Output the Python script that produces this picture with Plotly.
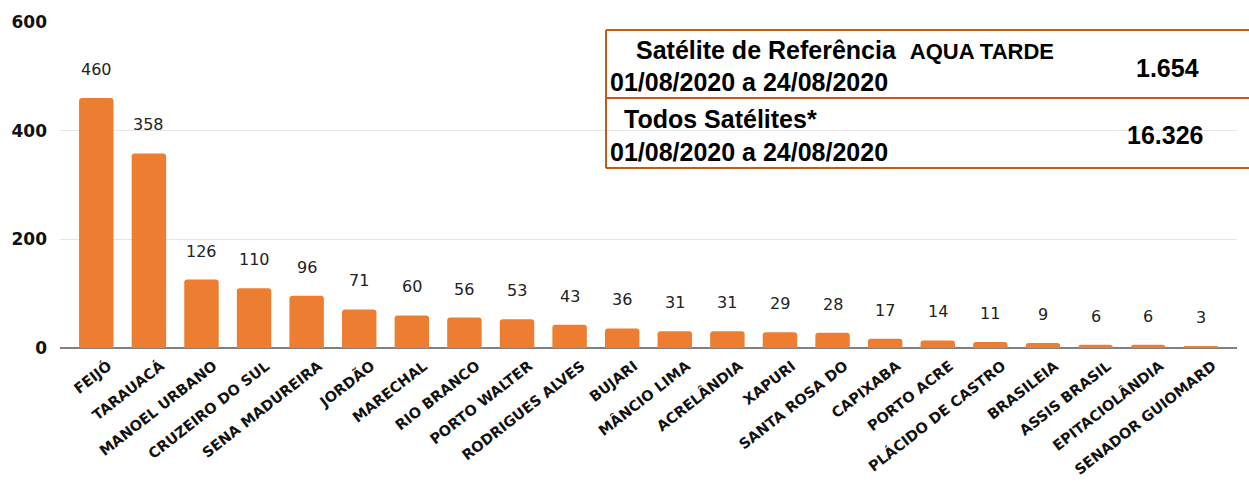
import plotly.graph_objects as go

municipios = ["FEIJÓ", "TARAUACÁ", "MANOEL URBANO", "CRUZEIRO DO SUL", "SENA MADUREIRA",
              "JORDÃO", "MARECHAL", "RIO BRANCO", "PORTO WALTER", "RODRIGUES ALVES",
              "BUJARI", "MÂNCIO LIMA", "ACRELÂNDIA", "XAPURI", "SANTA ROSA DO",
              "CAPIXABA", "PORTO ACRE", "PLÁCIDO DE CASTRO", "BRASILEIA", "ASSIS BRASIL",
              "EPITACIOLÂNDIA", "SENADOR GUIOMARD"]
focos = [460, 358, 126, 110, 96, 71, 60, 56, 53, 43, 36, 31, 31, 29, 28, 17, 14, 11, 9, 6, 6, 3]
y_ticks = [0, 200, 400, 600]

ref_label = "Satélite de Referência"
ref_sat = "AQUA TARDE"
periodo = "01/08/2020 a 24/08/2020"
ref_total = "1.654"
todos_label = "Todos Satélites*"
todos_total = "16.326"

fig = go.Figure()
fig.add_trace(go.Bar(
    x=municipios, y=focos,
    marker=dict(color="#ED7D31", cornerradius=3, line=dict(width=0)),
    hoverinfo="x+y",
))

for m, v in zip(municipios, focos):
    fig.add_annotation(x=m, y=v, text=str(v), showarrow=False, yanchor="bottom",
                       yshift=17, font=dict(family="DejaVu Sans", size=16, color="#222222"))

W, H = 1249, 483
ml, mr, mt, mb = 60, 12, 22, 135
pw = W - ml - mr
ph = H - mt - mb

def px(x):
    return (x - ml) / pw

def py(y):
    return (H - mb - y) / ph

line = dict(color="#C55A11", width=2)
x0, x1 = px(606), px(1262)
for yy in (30, 98, 168):
    fig.add_shape(type="line", xref="paper", yref="paper", x0=x0, x1=x1, y0=py(yy), y1=py(yy), line=line)
fig.add_shape(type="line", xref="paper", yref="paper", x0=x0, x1=x0, y0=py(30), y1=py(168), line=line)

def txt(x, y, s, anchor="left", size=25):
    f = dict(family="Liberation Sans, Arial", size=size, color="#000000")
    fig.add_annotation(xref="paper", yref="paper", x=px(x), y=py(y), text=s, showarrow=False,
                       xanchor=anchor, yanchor="middle", font=f)

txt(634, 50, f"<b>{ref_label}</b>  <b><span style='font-size:22px'>{ref_sat}</span></b>")
txt(608, 82, f"<b>{periodo}</b>")
txt(1167, 68, f"<b>{ref_total}</b>", anchor="center", size=25)
txt(622, 119, f"<b>{todos_label}</b>")
txt(608, 152, f"<b>{periodo}</b>")
txt(1165, 135, f"<b>{todos_total}</b>", anchor="center", size=25)

fig.update_layout(
    width=W, height=H,
    margin=dict(l=ml, r=mr, t=mt, b=mb, autoexpand=False),
    plot_bgcolor="white", paper_bgcolor="white",
    bargap=0.345, showlegend=False,
    xaxis=dict(range=[-0.69, len(municipios) - 1 + 0.69], tickangle=-38, automargin=False,
               tickfont=dict(family="DejaVu Sans", size=14.5, color="#111111", weight="bold"),
               showgrid=False, showline=False, ticks="", ticklabelshift=12, ticklabelstandoff=6),
    yaxis=dict(range=[0, 600], tickvals=y_ticks, ticktext=[f"<b>{t}</b>" for t in y_ticks],
               tickfont=dict(family="DejaVu Sans", size=17, color="#111111"), automargin=False,
               gridcolor="#E6E6E9", gridwidth=1, zeroline=True, zerolinecolor="#808080",
               zerolinewidth=1.5, ticklabelstandoff=12, showline=False),
)

fig.write_html("out.html", config={"displayModeBar": False},
               post_script="document.body.style.margin='0';")
